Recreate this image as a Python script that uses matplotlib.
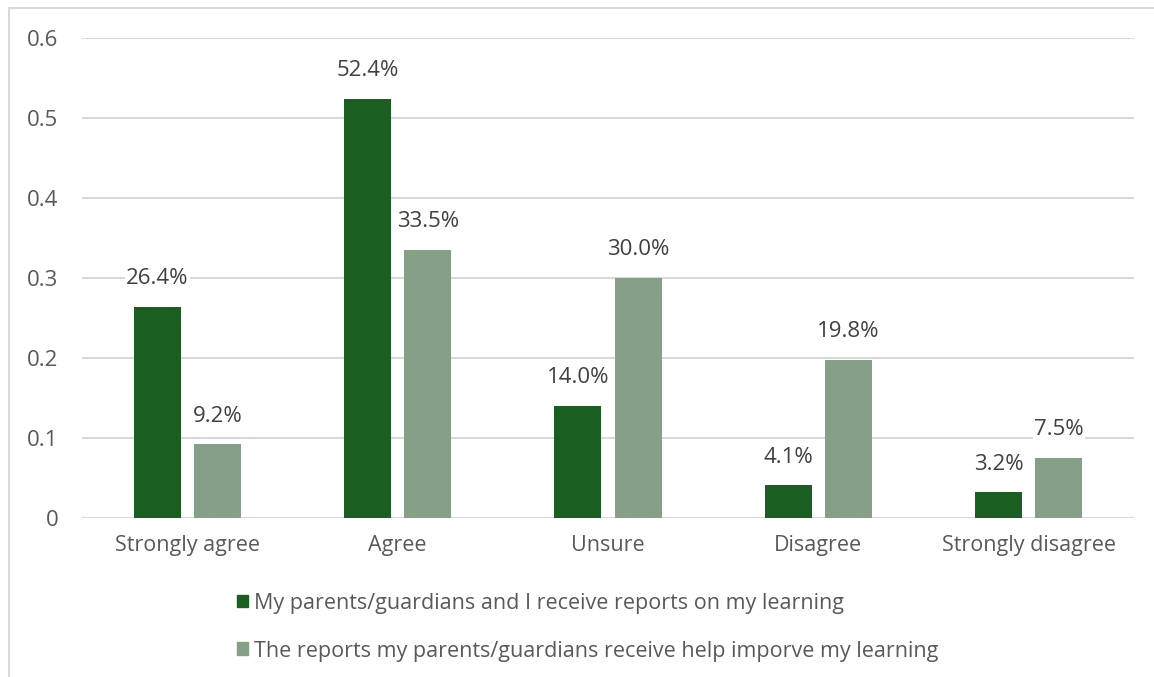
import numpy as np
import matplotlib.pyplot as plt
from matplotlib.patches import Rectangle, Patch

categories = ['Strongly agree', 'Agree', 'Unsure', 'Disagree', 'Strongly disagree']
receive_reports = [0.264, 0.524, 0.140, 0.041, 0.032]
reports_help = [0.092, 0.335, 0.300, 0.198, 0.075]
series_names = ['My parents/guardians and I receive reports on my learning',
                'The reports my parents/guardians receive help imporve my learning']
yticks = [0, 0.1, 0.2, 0.3, 0.4, 0.5, 0.6]
ytick_labels = ['0', '0.1', '0.2', '0.3', '0.4', '0.5', '0.6']

dark = '#1b5e22'
light = '#86a087'
txt = '#595959'
lbl = '#404040'
grid = '#d9d9d9'

plt.rcParams['font.family'] = ['Open Sans', 'DejaVu Sans']

fig = plt.figure(figsize=(11.54, 6.77), dpi=100)
fig.patches.append(Rectangle((9 / 1154, -0.1), 1.2, 1 - 8 / 677 + 0.1, transform=fig.transFigure,
                             fill=False, edgecolor='#d9d9d9', linewidth=1.5))
ax = fig.add_axes([82 / 1154, 1 - 518 / 677, (1134 - 82) / 1154, (518 - 38) / 677])

x = np.arange(len(categories))
w = 0.223
off = 0.143
b1 = ax.bar(x - off, receive_reports, w, color=dark, zorder=2)
b2 = ax.bar(x + off, reports_help, w, color=light, zorder=2)

for bars, vals in [(b1, receive_reports), (b2, reports_help)]:
    for r, v in zip(bars, vals):
        ax.text(r.get_x() + r.get_width() / 2, v + 0.022, f'{v * 100:.1f}%',
                ha='center', va='bottom', fontsize=16, color=lbl, zorder=3,
                bbox=dict(facecolor='white', edgecolor='none', pad=1))

ax.set_xlim(-0.5, len(categories) - 0.5)
ax.set_ylim(0, 0.6)
ax.set_yticks(yticks)
ax.set_yticklabels(ytick_labels)
ax.set_xticks(x)
ax.set_xticklabels(categories)
ax.tick_params(axis='y', length=0, pad=17, labelsize=16, labelcolor=txt)
ax.tick_params(axis='x', length=0, pad=12, labelsize=15.5, labelcolor=txt)
ax.yaxis.grid(True, color=grid, linewidth=1.5, zorder=0)
for s in ax.spines.values():
    s.set_visible(False)

handles = [Patch(color=dark), Patch(color=light)]
fig.legend(handles, series_names, loc='upper left', bbox_to_anchor=(228 / 1154, 1 - 584 / 677),
           frameon=False, fontsize=15.5, labelcolor=txt, handlelength=0.55, handleheight=0.55,
           handletextpad=0.25, labelspacing=1.25, borderaxespad=0)

fig.savefig('out.png', dpi=100)
